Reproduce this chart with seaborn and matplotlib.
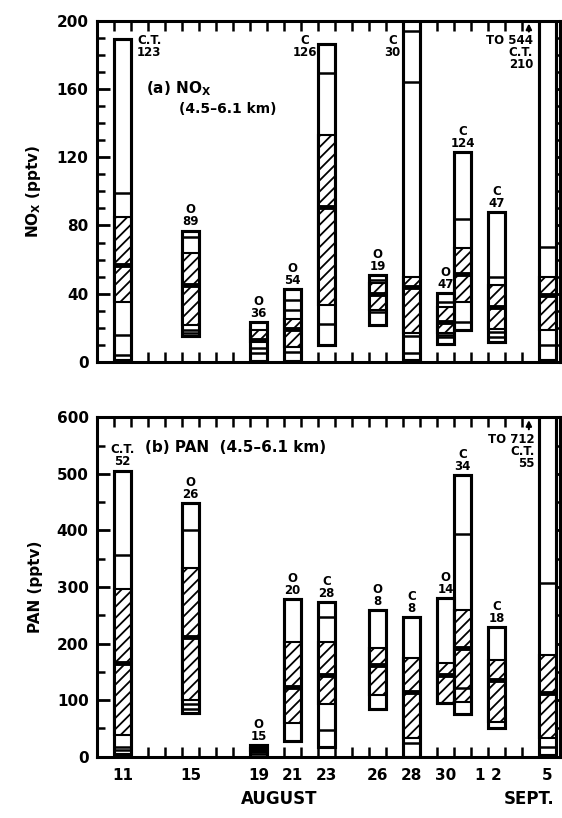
import matplotlib
matplotlib.use('Agg')
import matplotlib.pyplot as plt
import matplotlib.transforms as mtransforms
import numpy as np
import seaborn as sns

nan = np.nan

# flight days (August numbering, Sept 1 = 32)
days = [11, 15, 19, 21, 23, 26, 28, 30, 31, 33, 36]
tick_days = [11, 15, 19, 21, 23, 26, 28, 30, 32, 33, 36]
tick_text = ['11', '15', '19', '21', '23', '26', '28', '30', '1', '2', '5']

# (a) NOx, pptv
nox_min = [1, 15, 0.5, 0.5, 10, 21.5, 1, 10.5, 18.6, 11.7, 1]
nox_p05 = [4, 17, 5.3, nan, nan, nan, 5, 14.7, nan, 14.5, nan]
nox_p10 = [16, 19, 8.4, 5.9, 22.5, 29.3, 15, 15.7, 23.5, 17.6, 9.8]
nox_p25 = [35, 21.5, 11.7, 9, 33.3, 30.3, 16.7, 16.7, 35.2, 19.5, 18.6]
nox_med = [57, 45, 13, 19.6, 91, 40, 44, 23.5, 51.8, 32.3, 39]
nox_p75 = [85, 64, 18.6, 25, 133, 46, 50, 32.3, 66.5, 45, 50]
nox_p90 = [99, 73, nan, 30.7, 169.5, 48.3, 164, 35.2, 84, 49.9, 67.5]
nox_p95 = [nan, nan, nan, 36.2, nan, nan, 194, nan, nan, nan, nan]
nox_max = [189, 77, 23.6, 42.5, 186.3, 51, 544, 40.5, 123, 88, 544]
nox_kind = ['C.T.', 'O', 'O', 'O', 'C', 'O', 'C', 'O', 'C', 'C', 'C.T.']
nox_n = [123, 89, 36, 54, 126, 19, 30, 47, 124, 47, 210]

# (b) PAN, pptv
pan_min = [5, 78, 0, 28, 16.6, 85, 0, 95, 75.5, 50, 3]
pan_p05 = [12, 85, 4, nan, nan, nan, nan, nan, nan, nan, nan]
pan_p10 = [18, 94, 8, nan, 48, nan, 23.6, nan, 121, nan, 18]
pan_p25 = [38, 100, 10, 59, 94, 109, 32.5, 95.5, 97, 62, 32.5]
pan_med = [165, 212, 13, 124, 144, 162, 115, 144, 192, 136, 112]
pan_p75 = [296, 334, 16, 203, 203, 192, 174, 166, 260, 171, 180]
pan_p90 = [357, 401, 18, nan, 247, nan, nan, nan, 394, nan, 308]
pan_p95 = [nan, nan, nan, nan, nan, nan, nan, nan, nan, nan, nan]
pan_max = [506, 449, 20, 278, 274, 259, 247.5, 280, 498, 229, 712]
pan_kind = ['C.T.', 'O', 'O', 'O', 'C', 'O', 'C', 'O', 'C', 'C', 'C.T.']
pan_n = [52, 26, 15, 20, 28, 8, 8, 14, 34, 18, 55]

sns.set_theme(style='ticks')
plt.rcParams['font.family'] = ['DejaVu Sans']
plt.rcParams['font.weight'] = 'bold'
plt.rcParams['mathtext.default'] = 'bf'
plt.rcParams['axes.linewidth'] = 2.2
plt.rcParams['hatch.linewidth'] = 1.3
plt.rcParams['hatch.color'] = 'black'
for key in ['text.color', 'axes.labelcolor', 'xtick.color', 'ytick.color', 'axes.edgecolor']:
    plt.rcParams[key] = 'black'


def draw_boxes(ax, lo, p05, p10, p25, med, p75, p90, p95, hi):
    for i, d in enumerate(days):
        ax.bar(d, hi[i] - lo[i], bottom=lo[i], width=1, align='edge',
               facecolor='white', edgecolor='black', linewidth=2.2, zorder=2)
        ax.bar(d, p75[i] - p25[i], bottom=p25[i], width=1, align='edge',
               facecolor='white', edgecolor='black', hatch='///', linewidth=1.5, zorder=3)
        for v in (p05[i], p10[i], p90[i], p95[i]):
            if not np.isnan(v):
                ax.hlines(v, d, d + 1, color='black', lw=1.8, zorder=4)
        ax.hlines(med[i], d, d + 1, color='black', lw=3.5, zorder=4)
        ax.bar(d, hi[i] - lo[i], bottom=lo[i], width=1, align='edge',
               fill=False, edgecolor='black', linewidth=2.2, zorder=5)


def label_boxes(ax, kind, n, hi, skip):
    for i, d in enumerate(days):
        if i in skip:
            continue
        ax.annotate(f'{kind[i]}\n{n[i]}', xy=(d + 0.5, hi[i]), xytext=(0, 1.5),
                    textcoords='offset points', ha='center', va='bottom',
                    fontsize=8.5, fontweight='bold', linespacing=0.9)


def style_axis(ax, ymax, major, minor):
    ax.set_xlim(10, 37.23)
    ax.set_ylim(0, ymax)
    ax.set_yticks(np.arange(0, ymax + 1, major))
    ax.set_yticks(np.arange(0, ymax + 1, minor), minor=True)
    ax.set_xticks([d + 0.5 for d in tick_days])
    ax.set_xticks(np.arange(11, 38), minor=True)
    ax.tick_params(axis='x', which='major', length=0, pad=8, labelsize=11)
    ax.tick_params(axis='x', which='minor', direction='in', length=7, width=1.8,
                   top=True, bottom=True)
    ax.tick_params(axis='y', which='major', direction='in', length=9, width=2,
                   right=True, labelsize=11, pad=6)
    ax.tick_params(axis='y', which='minor', direction='in', length=6, width=1.8,
                   right=True)
    for s in ax.spines.values():
        s.set_linewidth(2.2)
        s.set_color('black')


fig = plt.figure(figsize=(5.62, 8.18), dpi=100)
ax1 = fig.add_axes([0.1726, 0.5575, 0.8238, 0.4172])
ax2 = fig.add_axes([0.1726, 0.0749, 0.8238, 0.4149])

# top panel: NOx
draw_boxes(ax1, nox_min, nox_p05, nox_p10, nox_p25, nox_med, nox_p75, nox_p90, nox_p95, nox_max)
style_axis(ax1, 200, 40, 10)
ax1.set_xticklabels([])
label_boxes(ax1, nox_kind, nox_n, nox_max, skip=[0, 4, 6, 10])
ax1.text(12.35, 192, 'C.T.\n123', ha='left', va='top', fontsize=8.5, linespacing=0.9)
ax1.text(22.95, 192, 'C\n126', ha='right', va='top', fontsize=8.5, linespacing=0.9,
         multialignment='center')
ax1.text(27.85, 192, 'C\n30', ha='right', va='top', fontsize=8.5, linespacing=0.9,
         multialignment='center')
ax1.text(35.65, 192, 'TO 544\nC.T.\n210', ha='right', va='top', fontsize=8.5,
         linespacing=0.9, multialignment='right')
ax1.annotate('', xy=(35.4, 200), xytext=(35.4, 192),
             arrowprops=dict(arrowstyle='-|>', lw=1.5, color='black', mutation_scale=8))
ax1.text(12.9, 160, '(a) NO$_X$', ha='left', va='center', fontsize=11)
ax1.text(14.8, 148, '(4.5\u20136.1 km)', ha='left', va='center', fontsize=10)
ax1.set_ylabel('NO$_X$ (pptv)', fontsize=11, fontweight='bold', labelpad=10)

# bottom panel: PAN
draw_boxes(ax2, pan_min, pan_p05, pan_p10, pan_p25, pan_med, pan_p75, pan_p90, pan_p95, pan_max)
style_axis(ax2, 600, 100, 50)
ax2.set_xticklabels(tick_text, fontweight='bold')
label_boxes(ax2, pan_kind, pan_n, pan_max, skip=[10])
ax2.text(35.75, 573, 'TO 712\nC.T.\n55', ha='right', va='top', fontsize=8.5,
         linespacing=0.9, multialignment='right')
ax2.annotate('', xy=(35.4, 600), xytext=(35.4, 574),
             arrowprops=dict(arrowstyle='-|>', lw=1.5, color='black', mutation_scale=8))
ax2.text(12.8, 546, '(b) PAN  (4.5\u20136.1 km)', ha='left', va='center', fontsize=11)
ax2.set_ylabel('PAN (pptv)', fontsize=11, fontweight='bold', labelpad=10)

trans = mtransforms.blended_transform_factory(ax2.transData, ax2.transAxes)
ax2.text(20.7, -0.125, 'AUGUST', transform=trans, ha='center', va='center', fontsize=12)
ax2.text(35.4, -0.125, 'SEPT.', transform=trans, ha='center', va='center', fontsize=12)

fig.savefig('out.png', dpi=100)
